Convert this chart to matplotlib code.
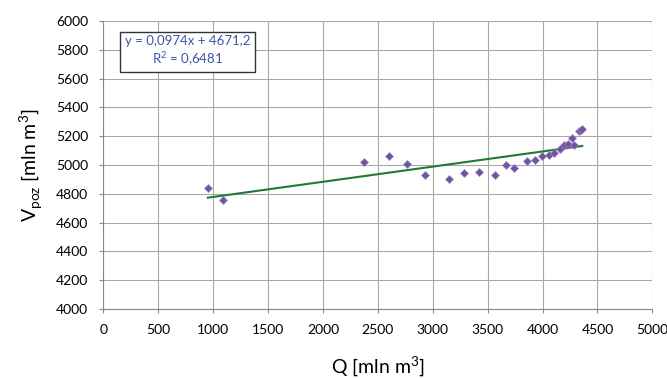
import numpy as np
import matplotlib
matplotlib.use("Agg")
import matplotlib.pyplot as plt

q = [952, 1088, 2372, 2600, 2764, 2931, 3144, 3283, 3420, 3566, 3663, 3736,
     3857, 3933, 3996, 4057, 4106, 4158, 4197, 4228, 4264, 4288, 4328, 4346, 4361]
v_poz = [4840, 4757, 5019, 5060, 5007, 4933, 4903, 4944, 4954, 4928, 5002, 4977,
         5030, 5037, 5065, 5067, 5081, 5111, 5141, 5146, 5185, 5139, 5236, 5241, 5248]
x_ticks = np.arange(0, 5001, 500)
y_ticks = np.arange(4000, 6001, 200)
eq_text = "y = 0,0974x + 4671,2\nR$^2$ = 0,6481"

plt.rcParams['font.family'] = ['Lato', 'DejaVu Sans']
plt.rcParams['mathtext.fontset'] = 'custom'
plt.rcParams['mathtext.rm'] = 'Lato'

fig = plt.figure(figsize=(6.67, 3.78), dpi=100)
ax = fig.add_axes([0.155, 0.183, 0.823, 0.761])

# linear trend from the points
coef = np.polyfit(q, v_poz, 1)
xl = np.array([min(q), max(q)])
ax.plot(xl, np.polyval(coef, xl), color='#1f7a3a', lw=1.5, zorder=3)
ax.scatter(q, v_poz, marker='D', s=16, color='#6f559c', edgecolors='#9a7cc4',
           linewidths=0.5, zorder=4)

ax.set_xlim(0, 5000)
ax.set_ylim(4000, 6000)
ax.set_xticks(x_ticks)
ax.set_yticks(y_ticks)
ax.tick_params(labelsize=10, length=3, color='#888888', pad=8)
ax.grid(True, color='#a8a8a8', lw=0.8)
ax.set_axisbelow(True)
for s in ['top', 'right']:
    ax.spines[s].set_visible(False)
for s in ['left', 'bottom']:
    ax.spines[s].set_color('#888888')

ax.set_xlabel("Q [mln m$^3$]", fontsize=14, labelpad=13)
ax.set_ylabel("V$_\\mathrm{poz}$ [mln m$^3$]", fontsize=14, labelpad=8)

ax.text(0.153, 0.895, eq_text, transform=ax.transAxes, ha='center', va='center',
        fontsize=9.5, color='#3a56a8', linespacing=1.2,
        bbox=dict(boxstyle='square,pad=0.35', fc='white', ec='#333333', lw=1))

fig.savefig("out.png", dpi=100)
